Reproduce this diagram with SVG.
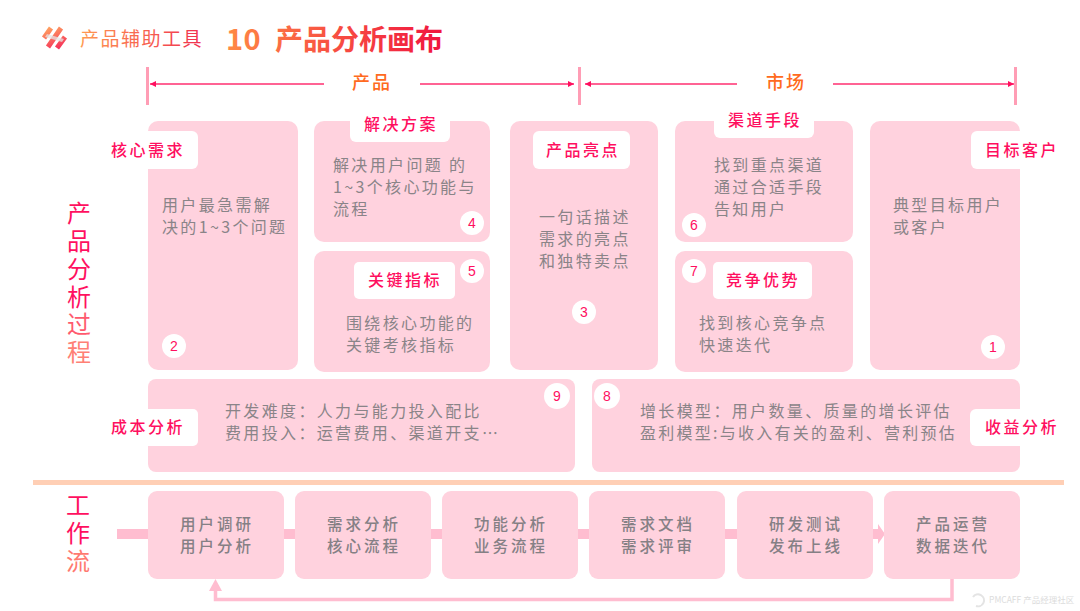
<svg xmlns="http://www.w3.org/2000/svg" width="1080" height="611" viewBox="0 0 1080 611">
<defs>
<linearGradient id="tg" gradientUnits="userSpaceOnUse" x1="226" y1="0" x2="442" y2="0"><stop offset="0" stop-color="#ff8a45"/><stop offset="1" stop-color="#f0153f"/></linearGradient>
<linearGradient id="sg" gradientUnits="userSpaceOnUse" x1="80" y1="0" x2="202" y2="0"><stop offset="0" stop-color="#ff9a50"/><stop offset="1" stop-color="#f0304f"/></linearGradient>
<linearGradient id="lg" gradientUnits="userSpaceOnUse" x1="50" y1="27" x2="58" y2="49"><stop offset="0" stop-color="#ffa060"/><stop offset="1" stop-color="#f5305a"/></linearGradient>
<marker id="ah" markerWidth="8" markerHeight="8" refX="6" refY="3" orient="auto-start-reverse" markerUnits="userSpaceOnUse"><path d="M0 0L6 3L0 6Z" fill="#ff0f5f"/></marker>
<style>
text{font-family:"Noto Sans CJK SC","Noto Sans",sans-serif}
.p{fill:#ffd2de}
.w{fill:#fff}
.body{font-size:16px;fill:#8a8488;letter-spacing:2.35px}
.tag{font-size:16px;font-weight:500;fill:#ff0f5f;letter-spacing:2.5px;text-anchor:middle}
.flow{font-size:15.500px;fill:#858085;letter-spacing:3px;text-anchor:middle;font-weight:500}
.num{font-family:"Liberation Sans",sans-serif;font-size:14px;fill:#ff0f5f;text-anchor:middle}
.bar{fill:#ff9db5}
.l{stroke:#ff2f70;stroke-width:1.3;fill:none}
.hd{font-size:18px;fill:#ff6a20;letter-spacing:2px;text-anchor:middle;font-weight:500}
.v{font-size:24px;writing-mode:vertical-rl;text-orientation:upright;letter-spacing:3.800px;fill:#ff1060}
.lk{stroke:url(#lg);stroke-width:5;fill:none}
</style>
</defs>
<rect width="1080" height="611" fill="#fff"/>
<g id="header">
<path class="lk" d="M44 38L51 28M48 47L61 28M57 48L65 37"/>
<path d="M47 34L64 39L62 42L45 37Z" fill="#e4e4e4" opacity="0.75"/>
<text x="80" y="46" font-size="19" fill="url(#sg)" letter-spacing="1.5">产品辅助工具</text>
<text x="226" y="50" font-size="29" font-weight="700" fill="url(#tg)" letter-spacing="0.5">10</text>
<text x="275" y="50" font-size="28" font-weight="700" fill="url(#tg)">产品分析画布</text>
</g>
<g id="connectors">
<rect class="bar" x="146" y="67" width="3" height="38"/>
<rect class="bar" x="578" y="67" width="3" height="38"/>
<rect class="bar" x="1014" y="67" width="3" height="38"/>
<path class="l" d="M324 84H150" marker-end="url(#ah)"/>
<path class="l" d="M420 84H574" marker-end="url(#ah)"/>
<path class="l" d="M737 84H585" marker-end="url(#ah)"/>
<path class="l" d="M833 84H1014" marker-end="url(#ah)"/>
<rect x="33" y="480" width="1031" height="5" fill="#ffcfb5"/>
<path d="M117 529H878V524L885 534L878 544V539H117Z" fill="#ffbdd0"/>
<path d="M952 579V599.500H215.500V588" fill="none" stroke="#ffbdd0" stroke-width="3.500"/>
<path d="M209 591L215.500 579L222 591Z" fill="#ffbdd0"/>
</g>
<g id="hd-product"><text class="hd" x="372" y="89">产品</text></g>
<g id="hd-market"><text class="hd" x="786" y="89">市场</text></g>
<g id="label-process"><text class="v" x="79" y="201">产品分析<tspan fill="#ff5a6e">过</tspan><tspan fill="#ff8075">程</tspan></text></g>
<g id="label-flow"><text class="v" x="78" y="493">工作<tspan fill="#ff7a70">流</tspan></text></g>
<g id="n2"><rect class="p" x="148" y="121" width="150" height="249" rx="10"/>
<rect class="w" x="100" y="131" width="98" height="38" rx="6"/>
<text class="tag" x="148" y="156">核心需求</text>
<text class="body" x="162" y="211">用户最急需解</text><text class="body" x="162" y="233">决的1~3个问题</text>
<circle class="w" cx="174" cy="346" r="12"/><text class="num" x="174" y="351">2</text></g>
<g id="n4"><rect class="p" x="314" y="121" width="176" height="121" rx="10"/>
<rect class="w" x="350" y="108" width="100" height="34" rx="6"/>
<text class="tag" x="401" y="130">解决方案</text>
<text class="body" x="333" y="171">解决用户问题 的</text><text class="body" x="333" y="193">1~3个核心功能与</text><text class="body" x="333" y="215">流程</text>
<circle class="w" cx="472" cy="223" r="12"/><text class="num" x="472" y="228">4</text></g>
<g id="n5"><rect class="p" x="314" y="251" width="176" height="121" rx="10"/>
<rect class="w" x="354" y="262" width="101" height="37" rx="5"/>
<text class="tag" x="405" y="286">关键指标</text>
<text class="body" x="346" y="329">围绕核心功能的</text><text class="body" x="346" y="351">关键考核指标</text>
<circle class="w" cx="472" cy="271" r="12"/><text class="num" x="472" y="276">5</text></g>
<g id="n3"><rect class="p" x="510" y="121" width="148" height="249" rx="10"/>
<rect class="w" x="533" y="131" width="97" height="38" rx="6"/>
<text class="tag" x="583" y="156">产品亮点</text>
<text class="body" x="539" y="223">一句话描述</text><text class="body" x="539" y="245">需求的亮点</text><text class="body" x="539" y="267">和独特卖点</text>
<circle class="w" cx="584" cy="312" r="12"/><text class="num" x="584" y="317">3</text></g>
<g id="n6"><rect class="p" x="675" y="121" width="178" height="121" rx="10"/>
<rect class="w" x="714" y="108" width="100" height="30" rx="6"/>
<text class="tag" x="765" y="126">渠道手段</text>
<text class="body" x="714" y="171">找到重点渠道</text><text class="body" x="714" y="193">通过合适手段</text><text class="body" x="714" y="215">告知用户</text>
<circle class="w" cx="694" cy="225" r="12"/><text class="num" x="694" y="230">6</text></g>
<g id="n7"><rect class="p" x="675" y="251" width="178" height="121" rx="10"/>
<rect class="w" x="713" y="262" width="99" height="37" rx="5"/>
<text class="tag" x="763" y="286">竞争优势</text>
<text class="body" x="699" y="329">找到核心竞争点</text><text class="body" x="699" y="351">快速迭代</text>
<circle class="w" cx="694" cy="271" r="12"/><text class="num" x="694" y="276">7</text></g>
<g id="n1"><rect class="p" x="870" y="121" width="150" height="249" rx="10"/>
<path class="w" d="M1020 131H977a6 6 0 0 0-6 6V163a6 6 0 0 0 6 6H1020Z"/>
<text class="tag" x="1022" y="156">目标客户</text>
<text class="body" x="893" y="211">典型目标用户</text><text class="body" x="893" y="233">或客户</text>
<circle class="w" cx="993" cy="347" r="12"/><text class="num" x="993" y="352">1</text></g>
<g id="n9"><rect class="p" x="148" y="379" width="427" height="93" rx="8"/>
<rect class="w" x="100" y="409" width="98" height="37" rx="5"/>
<text class="tag" x="148" y="433">成本分析</text>
<text class="body" x="225" y="417">开发难度：人力与能力投入配比</text><text class="body" x="225" y="439">费用投入：运营费用、渠道开支…</text>
<circle class="w" cx="557" cy="396" r="13"/><text class="num" x="557" y="401">9</text></g>
<g id="n8"><rect class="p" x="592" y="379" width="428" height="93" rx="8"/>
<path class="w" d="M1020 409H976a6 6 0 0 0-6 6V440a6 6 0 0 0 6 6H1020Z"/>
<text class="tag" x="1022" y="433">收益分析</text>
<text class="body" x="640" y="417">增长模型：用户数量、质量的增长评估</text><text class="body" x="640" y="439" style="letter-spacing:2.250px">盈利模型:与收入有关的盈利、营利预估</text>
<circle class="w" cx="607" cy="396" r="13"/><text class="num" x="607" y="401">8</text></g>
<g id="f1"><rect class="p" x="148" y="491" width="136" height="88" rx="9"/><text class="flow" x="217" y="530">用户调研</text><text class="flow" x="217" y="552">用户分析</text></g>
<g id="f2"><rect class="p" x="295" y="491" width="136" height="88" rx="9"/><text class="flow" x="364" y="530">需求分析</text><text class="flow" x="364" y="552">核心流程</text></g>
<g id="f3"><rect class="p" x="442" y="491" width="136" height="88" rx="9"/><text class="flow" x="511" y="530">功能分析</text><text class="flow" x="511" y="552">业务流程</text></g>
<g id="f4"><rect class="p" x="589" y="491" width="136" height="88" rx="9"/><text class="flow" x="658" y="530">需求文档</text><text class="flow" x="658" y="552">需求评审</text></g>
<g id="f5"><rect class="p" x="737" y="491" width="136" height="88" rx="9"/><text class="flow" x="806" y="530">研发测试</text><text class="flow" x="806" y="552">发布上线</text></g>
<g id="f6"><rect class="p" x="884" y="491" width="136" height="88" rx="9"/><text class="flow" x="953" y="530">产品运营</text><text class="flow" x="953" y="552">数据迭代</text></g>
<g id="watermark"><path d="M973 597a6 6 0 1 1 3 9" fill="none" stroke="#e4e4e4" stroke-width="2"/>
<text x="989" y="603" font-size="8.500" fill="#dcdcdc">PMCAFF 产品经理社区</text></g>
</svg>
